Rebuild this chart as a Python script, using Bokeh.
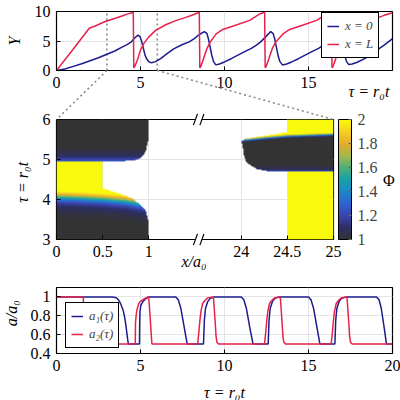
import numpy as np
from bokeh.plotting import figure
from bokeh.models import (Legend, LegendItem, LinearColorMapper, ColorBar,
                          FixedTicker, Range1d)
from bokeh.core.properties import value
from bokeh.embed import file_html
from bokeh.resources import INLINE

FONT = "Liberation Serif"
NAVY = "#1c1c8c"
RED = "#e8204b"
GRID = "#e4e4e4"
DOT = "#8a8a8a"

# ---------------- top panel: Y(tau) at x = 0 and at x = L
y0_tau = [0.0, 0.5, 1.0, 1.5, 2.0, 2.5, 3.0, 3.5, 3.9, 4.2, 4.45, 4.65, 4.85, 4.97, 5.07, 5.17, 5.27, 5.38, 5.5, 5.66,
          5.9, 6.2, 6.6, 7.0, 7.5, 7.9, 8.2, 8.5, 8.8, 8.95, 9.05, 9.15, 9.25, 9.35, 9.48,
          9.7, 10.0, 10.4, 10.8, 11.2, 11.6, 11.9, 12.15, 12.45, 12.75, 12.9, 13.0, 13.1, 13.2, 13.3, 13.45,
          13.7, 14.0, 14.4, 14.8, 15.2, 15.6, 15.9, 16.15, 16.45, 16.72, 16.87, 16.97, 17.07, 17.17, 17.27, 17.4,
          17.6, 17.9, 18.4, 19.0, 19.5, 20.0]
y0_val = [0.0, 0.25, 0.7, 1.15, 1.65, 2.15, 2.75, 3.35, 3.95, 4.4, 4.85, 5.5, 6.0, 5.75, 4.9, 3.8, 2.6, 1.9, 1.47, 1.3,
          1.5, 2.0, 2.9, 3.7, 4.4, 4.85, 5.4, 6.1, 6.6, 6.3, 5.3, 3.9, 2.5, 1.5, 0.95,
          1.1, 1.45, 2.0, 2.6, 3.2, 3.75, 4.3, 4.85, 5.7, 6.6, 6.25, 5.2, 3.8, 2.4, 1.5, 0.95,
          1.1, 1.45, 2.0, 2.6, 3.2, 3.75, 4.3, 4.85, 5.7, 6.6, 6.25, 5.2, 3.8, 2.4, 1.5, 1.0,
          1.1, 1.4, 2.1, 3.3, 4.3, 5.4]
yL_tau = [0.0, 1.0, 1.95, 2.3, 2.9, 3.5, 3.9, 4.2, 4.4, 4.57, 4.6,
          4.66, 4.81, 5.0, 5.2, 5.5, 5.9, 6.5, 7.1, 7.7, 8.1, 8.35, 8.5, 8.53,
          8.6, 8.75, 8.95, 9.15, 9.5, 9.9, 10.7, 11.5, 12.1, 12.3, 12.39, 12.42,
          12.49, 12.64, 12.84, 13.04, 13.48, 13.88, 14.68, 15.48, 16.08, 16.3, 16.37, 16.4,
          16.47, 16.62, 16.82, 17.0, 17.4, 17.8, 18.4, 19.0, 19.5, 20.0]
yL_val = [0.0, 3.65, 7.15, 7.55, 8.3, 8.85, 9.25, 9.55, 9.72, 9.85, 0.45,
          0.7, 1.75, 3.45, 4.6, 5.7, 6.8, 7.75, 8.45, 9.0, 9.4, 9.7, 9.85, 0.45,
          0.75, 2.0, 3.7, 4.8, 6.2, 6.95, 7.7, 8.5, 9.6, 9.8, 9.85, 0.45,
          0.75, 2.0, 3.7, 4.8, 6.2, 6.95, 7.7, 8.5, 9.6, 9.8, 9.85, 0.45,
          0.75, 2.0, 3.7, 4.8, 6.0, 6.9, 7.9, 8.8, 9.35, 9.8]
zoom_tau = [3, 6]          # time window shown in the middle panel

# ---------------- bottom panel: a1(tau), a2(tau)
a1_tau = [0.0, 3.3, 3.5, 3.6, 3.7, 3.8, 3.9, 3.98, 4.06, 4.13, 4.2, 4.25, 4.28,
          4.94, 4.95, 4.97, 5.02, 5.14, 5.3, 5.5,
          7.1, 7.25, 7.4, 7.6, 7.78,
          8.75, 8.8, 8.87, 9.0, 9.15, 9.4,
          11.0, 11.15, 11.3, 11.5, 11.7,
          12.6, 12.65, 12.72, 12.85, 13.0, 13.25,
          15.0, 15.15, 15.3, 15.5, 15.68,
          16.57, 16.62, 16.69, 16.82, 16.97, 17.24,
          19.05, 19.2, 19.33, 19.5, 19.64, 20.0]
a1_val = [1.0, 1.0, 0.995, 0.985, 0.965, 0.935, 0.89, 0.85, 0.78, 0.7, 0.6, 0.53, 0.5,
          0.5, 0.7, 0.85, 0.91, 0.95, 0.98, 1.0,
          1.0, 0.97, 0.88, 0.68, 0.5,
          0.5, 0.75, 0.88, 0.95, 0.985, 1.0,
          1.0, 0.97, 0.88, 0.68, 0.5,
          0.5, 0.75, 0.88, 0.95, 0.985, 1.0,
          1.0, 0.97, 0.88, 0.68, 0.5,
          0.5, 0.75, 0.88, 0.95, 0.985, 1.0,
          1.0, 0.97, 0.88, 0.68, 0.5, 0.5]
a2_tau = [0.0, 1.6, 1.601, 4.69, 4.70, 4.75, 4.8, 4.9, 4.97, 5.22, 5.45, 5.5, 5.55, 5.59, 5.64, 5.68, 5.8,
          8.4, 8.47, 8.53, 8.6, 8.7, 8.82, 9.0, 9.3, 9.35, 9.4, 9.45, 9.5, 9.55, 9.65,
          12.38, 12.45, 12.51, 12.58, 12.68, 12.8, 12.98, 13.28, 13.33, 13.38, 13.43, 13.48, 13.53, 13.63,
          16.35, 16.42, 16.48, 16.55, 16.65, 16.77, 16.95, 17.25, 17.3, 17.35, 17.4, 17.45, 17.5, 17.6, 20.0]
a2_val = [1.0, 1.0, 0.5, 0.5, 0.72, 0.82, 0.87, 0.93, 0.95, 0.98, 1.0, 0.97, 0.85, 0.74, 0.6, 0.5, 0.5,
          0.5, 0.62, 0.74, 0.85, 0.93, 0.96, 0.99, 1.0, 0.98, 0.85, 0.72, 0.58, 0.52, 0.5,
          0.5, 0.62, 0.74, 0.85, 0.93, 0.96, 0.99, 1.0, 0.98, 0.85, 0.72, 0.58, 0.52, 0.5,
          0.5, 0.62, 0.74, 0.85, 0.93, 0.96, 0.99, 1.0, 0.98, 0.85, 0.72, 0.58, 0.52, 0.5, 0.5]

# ---------------- middle panel: Phi(x, tau) read as profiles along tau
x_left_end = 1.0            # left strip  x/a0 in [0, 1]
x_right_start = 24.0        # right strip x/a0 in [24, 25]
phiL_low_tau = [3.0, 3.5, 3.7, 3.85, 3.93, 4.0, 4.06, 4.12, 4.2]     # at x = 0
phiL_low_val = [1.0, 1.0, 1.04, 1.12, 1.22, 1.38, 1.58, 1.8, 2.0]
phiL_shift_x = [0.0, 0.25, 0.5, 0.75, 1.0]
phiL_shift = [0.0, 0.02, 0.05, 0.1, 0.2]
phiL_up_tau = [4.6, 4.935, 4.945, 4.99, 5.05, 5.15, 5.3, 6.0]
phiL_up_val = [2.0, 2.0, 1.3, 1.2, 1.12, 1.05, 1.0, 1.0]
phiR_low_tau = [3.0, 4.69, 4.70, 4.73, 4.8, 4.9, 6.0]
phiR_low_val = [2.0, 2.0, 1.25, 1.1, 1.03, 1.0, 1.0]
phiR_up_rel = [-0.07, -0.04, -0.02, 0.0, 0.02, 0.04]
phiR_up_val = [1.0, 1.08, 1.25, 1.5, 1.75, 2.0]
phiR_T_x = [24.0, 24.25, 24.5, 25.0]
phiR_T = [5.47, 5.53, 5.58, 5.62]

cb_stops = [1.0, 1.1, 1.2, 1.3, 1.4, 1.5, 1.6, 1.7, 1.8, 1.9, 2.0]
cb_colors = ["#333333", "#2d2f66", "#3a45b0", "#2f63d0", "#1b88c8", "#16a2a8",
             "#4fb07a", "#a6b84a", "#e5ac2e", "#f6cf22", "#f9f90e"]
cb_ticks = [1.0, 1.2, 1.4, 1.6, 1.8, 2.0]

# ---------------- layout (pixels)
LEFT = 56
TOP_H, TOP_BT, TOP_BB, TOP_BR = 100, 11, 30, 8
MID_H, MID_BT, MID_BB, MID_BR = 175, 19, 36, 67
BOT_H, BOT_BT, BOT_BB, BOT_BR = 125, 12, 47, 8


def style(p):
    for ax in p.axis:
        ax.major_label_text_font = FONT
        ax.major_label_text_font_size = "16px"
        ax.major_label_text_color = "black"
        ax.major_tick_in = 4
        ax.major_tick_out = 0
        ax.major_tick_line_color = "black"
        ax.minor_tick_line_color = None
        ax.axis_line_color = None
        ax.major_label_standoff = 6
    p.outline_line_color = "black"
    p.outline_line_width = 1.2
    p.outline_line_alpha = 1.0
    p.xgrid.grid_line_color = GRID
    p.ygrid.grid_line_color = GRID


def lab(p, x, y, text, angle=0.0, style_="italic", size="16px"):
    p.text(x=[x], y=[y], text=[text], angle=angle, text_align="center",
           text_baseline="middle", text_font=value(FONT), text_font_size=value(size),
           text_font_style=style_, text_color="black", level="overlay")


def legend(items, loc):
    return Legend(items=items, location=loc, border_line_color="black", border_line_width=1,
                  border_line_alpha=1.0, background_fill_color="white", background_fill_alpha=1.0,
                  label_text_font=FONT, label_text_font_style="italic", label_text_font_size="13px",
                  glyph_width=12, glyph_height=16, label_height=16, label_standoff=6,
                  padding=5, spacing=2, margin=0)


# ================= top panel
p1 = figure(width=400, height=TOP_H, x_range=Range1d(0, 20), y_range=Range1d(0, 10),
            output_backend="svg", toolbar_location=None,
            min_border_left=LEFT, min_border_right=TOP_BR, min_border_top=TOP_BT, min_border_bottom=TOP_BB)
p1.xaxis.ticker = FixedTicker(ticks=[0, 5, 10, 15])
p1.yaxis.ticker = FixedTicker(ticks=[0, 5, 10])
style(p1)
for z in zoom_tau:
    p1.line([z, z], [0, 10], line_color=DOT, line_width=1.6, line_dash="2 3")
r0 = p1.line(y0_tau, y0_val, line_color=NAVY, line_width=1.5)
rL = p1.line(yL_tau, yL_val, line_color=RED, line_width=1.5)
p1.add_layout(legend([LegendItem(label="x = 0", renderers=[r0]),
                      LegendItem(label="x = L", renderers=[rL])], (265, 12)))

# pixel geometry used for the zoom connectors
t_fw = 400 - LEFT - TOP_BR
t_fh = TOP_H - TOP_BT - TOP_BB
t_bottom = TOP_BT + t_fh                      # global y of top frame bottom
m_top = TOP_H + MID_BT                        # global y of middle frame top
m_fw = 400 - LEFT - MID_BR
m_fh = MID_H - MID_BT - MID_BB
corner_gx = [LEFT, LEFT + m_fw]               # middle frame top corners (global px)
zoom_gx = [LEFT + z * t_fw / 20 for z in zoom_tau]

for z, gx in zip(zoom_tau, corner_gx):
    p1.line([z, (gx - LEFT) * 20 / t_fw], [0, -(m_top - t_bottom) * 10 / t_fh],
            line_color=DOT, line_width=1.6, line_dash="2 3", level="overlay")

lab(p1, -2.5, 5.0, "Y", angle=np.pi / 2)
lab(p1, 18.6, -3.56, "τ = r₀t")

# ================= middle panel
ny = 240
tau_c = 3 + (np.arange(ny) + 0.5) * 3 / ny
xl = (np.arange(100) + 0.5) / 100 * x_left_end
xr = x_right_start + (np.arange(100) + 0.5) / 100
TL, XL = np.meshgrid(tau_c, xl, indexing="ij")
s = np.interp(XL, phiL_shift_x, phiL_shift)
phiL = np.where(TL < 4.6, np.interp(TL + s, phiL_low_tau, phiL_low_val),
                np.interp(TL, phiL_up_tau, phiL_up_val))
phiL[XL > np.interp(TL, a1_tau, a1_val)] = np.nan
TR, XR = np.meshgrid(tau_c, xr, indexing="ij")
Tsw = np.interp(XR, phiR_T_x, phiR_T)
phiR = np.where(TR < 5.2, np.interp(TR, phiR_low_tau, phiR_low_val),
                np.interp(TR - Tsw, phiR_up_rel, phiR_up_val))
phiR[XR < x_right_start + 1 - np.interp(TR, a2_tau, a2_val)] = np.nan
img = np.hstack([phiL, np.full((ny, 100), np.nan), phiR])

rgb = np.array([[int(c[i:i + 2], 16) for i in (1, 3, 5)] for c in cb_colors], float)
pal = ["#%02x%02x%02x" % tuple(int(round(np.interp(v, cb_stops, rgb[:, k]))) for k in range(3))
       for v in np.linspace(1, 2, 256)]
mapper = LinearColorMapper(palette=pal, low=1, high=2, nan_color=(0, 0, 0, 0.0))

p2 = figure(width=400, height=MID_H, x_range=Range1d(0, 3), y_range=Range1d(zoom_tau[0], zoom_tau[1]),
            output_backend="svg", toolbar_location=None,
            min_border_left=LEFT, min_border_right=MID_BR, min_border_top=MID_BT, min_border_bottom=MID_BB)
xt = [0, 0.5, 1, 2, 2.5, 3]
p2.xaxis.ticker = FixedTicker(ticks=xt)
p2.xaxis.major_label_overrides = {0: "0", 0.5: "0.5", 1: "1",
                                  2: "%g" % x_right_start, 2.5: "%g" % (x_right_start + 0.5),
                                  3: "%g" % (x_right_start + 1)}
p2.yaxis.ticker = FixedTicker(ticks=[3, 4, 5, 6])
style(p2)
p2.image(image=[img], x=0, y=zoom_tau[0], dw=3, dh=zoom_tau[1] - zoom_tau[0], color_mapper=mapper)

# zoom connectors continued into the middle canvas
for gx, cx in zip(zoom_gx, [0, 3]):
    p2.line([(gx - LEFT) * 3 / m_fw, cx], [6 + (m_top - t_bottom) * 3 / m_fh, 6],
            line_color=DOT, line_width=1.6, line_dash="2 3", level="overlay")

# axis break marks
xb = 1.54
for yb in zoom_tau:
    p2.line([xb - 0.03, xb + 0.035], [yb, yb], line_color="white", line_width=4, level="overlay")
    for dx in (-0.035, 0.035):
        p2.line([xb + dx - 0.022, xb + dx + 0.022], [yb - 0.14, yb + 0.14],
                line_color="black", line_width=1.2, level="overlay")

cb = ColorBar(color_mapper=mapper, ticker=FixedTicker(ticks=cb_ticks),
              major_label_overrides={1: "1", 2: "2"}, width=13, height=m_fh,
              location=(5, 0), padding=0, margin=0, bar_line_color="black", bar_line_width=1,
              major_tick_in=3, major_tick_out=0, major_tick_line_color="#666666",
              minor_tick_line_color=None, label_standoff=6,
              major_label_text_font=FONT, major_label_text_font_size="16px",
              border_line_color=None, background_fill_alpha=0.0)
p2.add_layout(cb, "right")

lab(p2, -0.37, 4.43, "τ = r₀t", angle=np.pi / 2)
lab(p2, 1.49, 2.45, "x/a₀")
lab(p2, 3.6, 4.47, "Φ", style_="normal")

# ================= bottom panel
p3 = figure(width=400, height=BOT_H, x_range=Range1d(0, 20), y_range=Range1d(0.4, 1.1),
            output_backend="svg", toolbar_location=None,
            min_border_left=LEFT, min_border_right=BOT_BR, min_border_top=BOT_BT, min_border_bottom=BOT_BB)
p3.xaxis.ticker = FixedTicker(ticks=[0, 5, 10, 15, 20])
p3.yaxis.ticker = FixedTicker(ticks=[0.4, 0.6, 0.8, 1.0])
p3.yaxis.major_label_overrides = {0.4: "0.4", 0.6: "0.6", 0.8: "0.8", 1: "1"}
style(p3)
r1 = p3.line(a1_tau, a1_val, line_color=NAVY, line_width=1.5)
r2 = p3.line(a2_tau, a2_val, line_color=RED, line_width=1.5)
p3.add_layout(legend([LegendItem(label="a₁(τ)", renderers=[r1]),
                      LegendItem(label="a₂(τ)", renderers=[r2])], (9, 5)))
lab(p3, -2.68, 0.827, "a/a₀", angle=np.pi / 2)
lab(p3, 10, -0.016, "τ = r₀t")

open("out.html", "w").write(file_html([p1, p2, p3], INLINE))
